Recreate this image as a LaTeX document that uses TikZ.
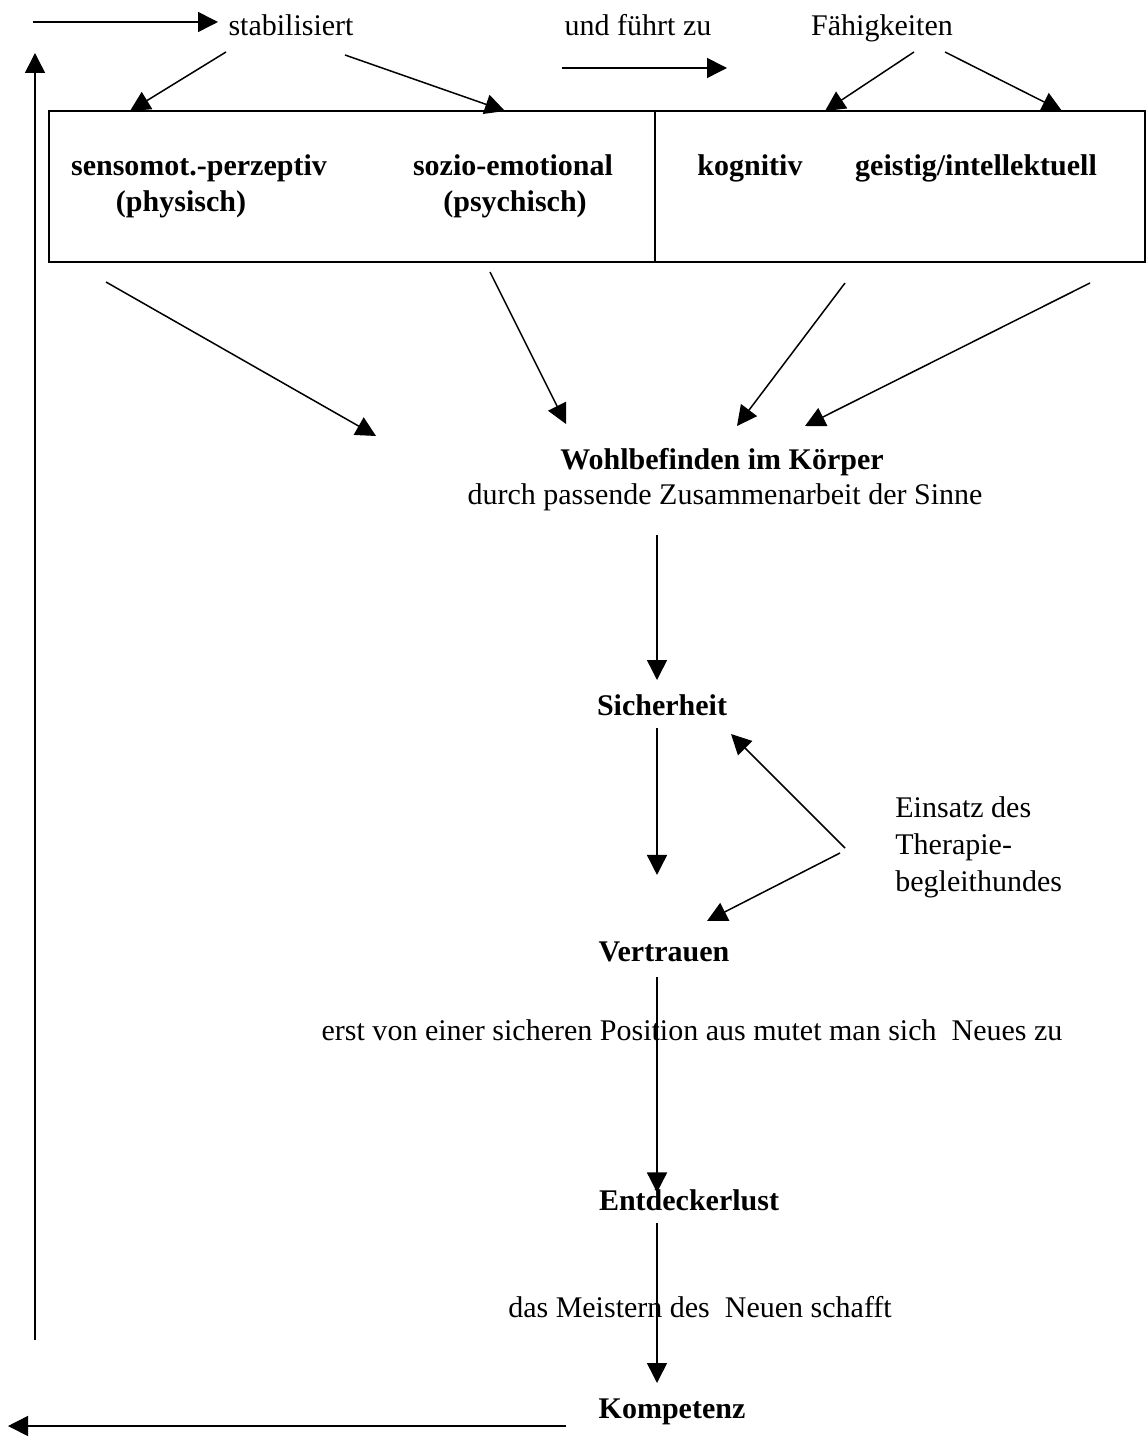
\documentclass[tikz,border=0pt]{standalone}
\usepackage{fontspec}
\setmainfont{Liberation Serif}
\usetikzlibrary{arrows.meta}

\begin{document}
\begin{tikzpicture}[x=0.5pt,y=-0.5pt,
        pfeil/.style={line width=0.75pt,-{Triangle[length=10pt,width=10pt]}},
        txt/.style={inner sep=0pt,font=\fontsize{15}{18.5}\selectfont},
        fett/.style={inner sep=0pt,font=\fontsize{15}{18.5}\selectfont\bfseries}]
    \useasboundingbox (0,0) rectangle (1147,1438);

    % obere Zeile
    \node[txt,anchor=base] (stab) at (291,36) {stabilisiert};
    \node[txt,anchor=base] (fuehrt) at (638,36) {und führt zu};
    \node[txt,anchor=base] (faeh) at (882,36) {Fähigkeiten};

    % Kasten mit den vier Bereichen
    \node[draw,line width=1pt,minimum width=548pt,minimum height=75.5pt,inner sep=0pt] (box) at (597,186.5) {};
    \coordinate (teil) at (655,111);
    \draw[line width=1pt] (teil) -- (teil |- box.south);
    \node[fett,anchor=base] (senso) at (199,176) {sensomot.-perzeptiv};
    \node[fett,anchor=base] (phys) at (181,212) {(physisch)};
    \node[fett,anchor=base] (sozio) at (513,176) {sozio-emotional};
    \node[fett,anchor=base] (psych) at (515,212) {(psychisch)};
    \node[fett,anchor=base] (kogn) at (750,176) {kognitiv};
    \node[fett,anchor=base] (geist) at (976,176) {geistig/intellektuell};

    % Kette nach unten
    \node[fett] (wohl) at (722,462) {Wohlbefinden im Körper};
    \node[txt] (zus) at (725,497) {durch passende Zusammenarbeit der Sinne};
    \node[fett] (sich) at (662,705) {Sicherheit};
    \node[txt,align=left,anchor=west] (hund) at (895,847) {Einsatz des\\ Therapie-\\begleithundes};
    \node[fett] (vert) at (664,952) {Vertrauen};
    \node[txt] (erst) at (692,1030) {erst von einer sicheren Position aus mutet man sich\ \ Neues zu};
    \node[fett] (entd) at (689,1200) {Entdeckerlust};
    \node[txt] (meist) at (700,1307) {das Meistern des\ \ Neuen schafft};
    \node[fett] (komp) at (672,1412) {Kompetenz};

    % Endpunkte
    \coordinate (a1) at (33,22);   \coordinate (a2) at (218,22);
    \coordinate (b1) at (562,68);  \coordinate (b2) at (727,68);
    \coordinate (s1) at (226,52);  \coordinate (s2) at (130,111);
    \coordinate (s3) at (345,55);  \coordinate (s4) at (505,111);
    \coordinate (f1) at (914,52);  \coordinate (f2) at (825,111);
    \coordinate (f3) at (945,52);  \coordinate (f4) at (1062,111);
    \coordinate (u1) at (106,282); \coordinate (u2) at (376,436);
    \coordinate (u3) at (490,272); \coordinate (u4) at (566,424);
    \coordinate (u5) at (845,283); \coordinate (u6) at (737,426);
    \coordinate (u7) at (1090,283);\coordinate (u8) at (805,426);
    \coordinate (e1) at (845,848); \coordinate (e2) at (731,734);
    \coordinate (e3) at (840,853); \coordinate (e4) at (707,921);
    \coordinate (k1) at (566,1426);\coordinate (k2) at (8,1426);
    \coordinate (l1) at (35,1340); \coordinate (l2) at (35,53);

    \draw[pfeil] (a1) -- (a2);
    \draw[pfeil] (b1) -- (b2);
    \draw[pfeil] (s1) -- (s2);
    \draw[pfeil] (s3) -- (s4);
    \draw[pfeil] (f1) -- (f2);
    \draw[pfeil] (f3) -- (f4);
    \draw[pfeil] (u1) -- (u2);
    \draw[pfeil] (u3) -- (u4);
    \draw[pfeil] (u5) -- (u6);
    \draw[pfeil] (u7) -- (u8);
    \draw[pfeil] (zus.south -| 657,0) ++(0,24) -- ++(0,145);
    \draw[pfeil] (sich.south -| 657,0) ++(0,12) -- ++(0,147);
    \draw[pfeil] (vert.south -| 657,0) ++(0,15) -- ++(0,215);
    \draw[pfeil] (entd.south -| 657,0) ++(0,12) -- ++(0,160);
    \draw[pfeil] (e1) -- (e2);
    \draw[pfeil] (e3) -- (e4);
    \draw[pfeil] (k1) -- (k2);
    \draw[pfeil] (l1) -- (l2);
\end{tikzpicture}
\end{document}
